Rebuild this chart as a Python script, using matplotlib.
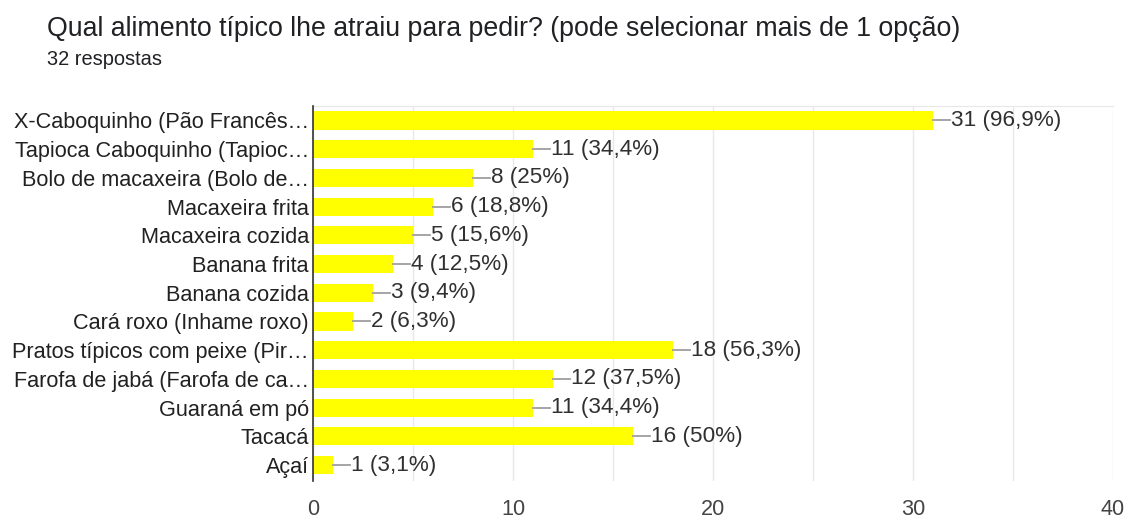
import matplotlib.pyplot as plt

# Data
labels = [
    'X-Caboquinho (Pão Francês…',
    'Tapioca Caboquinho (Tapioc…',
    'Bolo de macaxeira (Bolo de…',
    'Macaxeira frita',
    'Macaxeira cozida',
    'Banana frita',
    'Banana cozida',
    'Cará roxo (Inhame roxo)',
    'Pratos típicos com peixe (Pir…',
    'Farofa de jabá (Farofa de ca…',
    'Guaraná em pó',
    'Tacacá',
    'Açaí',
]
counts = [31, 11, 8, 6, 5, 4, 3, 2, 18, 12, 11, 16, 1]
percents = ['96,9%', '34,4%', '25%', '18,8%', '15,6%', '12,5%', '9,4%',
            '6,3%', '56,3%', '37,5%', '34,4%', '50%', '3,1%']
xticks = [0, 10, 20, 30, 40]

plt.rcParams['font.family'] = ['Liberation Sans', 'DejaVu Sans']

fig = plt.figure(figsize=(11.26, 5.19), dpi=100)
ax = fig.add_axes([0.278, 0.073, 0.7105, 0.722])

y = list(range(len(labels)))
ax.barh(y, counts, height=0.63, color='#ffff00', zorder=3)

# value labels with short connector line
for yi, c, p in zip(y, counts, percents):
    ax.plot([c, c + 0.85], [yi, yi], color='#9e9e9e', lw=1.3, zorder=3)
    ax.text(c + 0.9, yi, f'{c} ({p})', va='center', ha='left',
            fontsize=16.2, color='#303030')

ax.set_xlim(0, 40)
ax.set_ylim(12.56, -0.49)
ax.set_yticks(y)
ax.set_yticklabels(labels, fontsize=15.6, color='#212121')
ax.set_xticks(xticks)
ax.set_xticklabels([str(t) for t in xticks], fontsize=15.6, color='#444444')
ax.set_xticks(range(0, 41, 5), minor=True)
ax.grid(axis='x', which='both', color='#e8e8e8', lw=1, zorder=0)
ax.tick_params(axis='both', which='both', length=0, pad=3)
ax.tick_params(axis='x', pad=13)

for s in ['right', 'bottom']:
    ax.spines[s].set_visible(False)
ax.spines['top'].set_color('#e8e8e8')
ax.spines['left'].set_color('#333333')
ax.spines['left'].set_linewidth(1.2)
ax.spines['left'].set_zorder(4)

fig.text(47 / 1126, 1 - 29 / 519, 'Qual alimento típico lhe atraiu para pedir? (pode selecionar mais de 1 opção)',
         fontsize=19.3, color='#202124', va='center', ha='left')
fig.text(47 / 1126, 1 - 60 / 519, '32 respostas', fontsize=14.4, color='#202124',
         va='center', ha='left')

fig.savefig('out.png', dpi=100)
